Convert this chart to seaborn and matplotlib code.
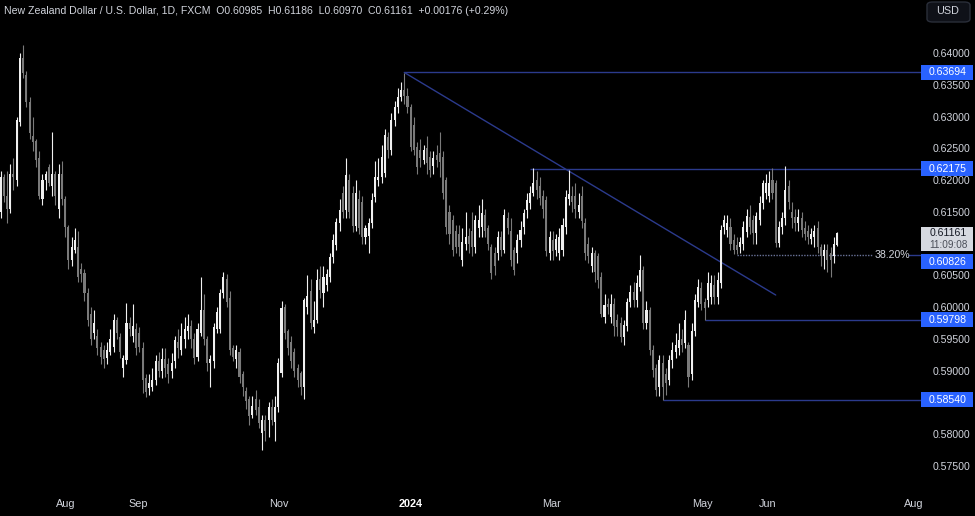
import numpy as np
import pandas as pd
import seaborn as sns
import matplotlib.pyplot as plt
from matplotlib.patches import Rectangle, FancyBboxPatch

# NZD/USD daily candles, prices in pips (x 1e-4)
opens = [6150, 6205, 6175, 6155, 6210, 6200, 6291, 6392, 6365, 6323,
         6270, 6262, 6235, 6170, 6200, 6220, 6190, 6210, 6155, 6210,
         6170, 6126, 6074, 6090, 6095, 6060, 6054, 6022, 5990, 5960,
         5955, 5937, 5933, 5920, 5930, 5937, 5980, 5953, 5905, 5917,
         5975, 5955, 5965, 5960, 5935, 5888, 5872, 5875, 5885, 5915,
         5900, 5918, 5910, 5900, 5915, 5945, 5933, 5950, 5962, 5970,
         5950, 5922, 5960, 5995, 5950, 5912, 5915, 5965, 5965, 6022,
         6045, 6015, 5935, 5918, 5930, 5895, 5868, 5855, 5830, 5855,
         5843, 5802, 5822, 5822, 5843, 5820, 5843, 5896, 6000, 5962,
         5945, 5930, 5905, 5896, 5874, 6000, 6025, 5968, 5980, 6045,
         6022, 6035, 6047, 6079, 6098, 6132, 6180, 6153, 6200, 6180,
         6128, 6170, 6165, 6110, 6112, 6132, 6173, 6200, 6205, 6211,
         6268, 6247, 6295, 6315, 6331, 6342, 6332, 6315, 6287, 6252,
         6247, 6232, 6250, 6236, 6222, 6240, 6242, 6236, 6200, 6150,
         6137, 6120, 6115, 6074, 6100, 6112, 6120, 6095, 6125, 6126,
         6145, 6125, 6095, 6085, 6085, 6110, 6090, 6140, 6120, 6090,
         6085, 6106, 6126, 6153, 6164, 6180, 6200, 6190, 6175, 6168,
         6085, 6105, 6090, 6085, 6090, 6126, 6170, 6175, 6175, 6150,
         6175, 6132, 6100, 6064, 6085, 6080, 6047, 5985, 6005, 5985,
         6005, 5980, 5975, 5953, 5970, 6008, 6024, 6011, 6032, 6059,
         5975, 5995, 5933, 5905, 5874, 5912, 5895, 5885, 5917, 5930,
         5935, 5950, 5943, 5940, 5895, 5962, 6008, 6030, 6008, 6011,
         6016, 6035, 6016, 6038, 6126, 6122, 6126, 6106, 6098, 6095,
         6100, 6118, 6142, 6137, 6117, 6137, 6164, 6180, 6175, 6200,
         6195, 6101, 6126, 6140, 6190, 6150, 6142, 6132, 6140, 6125,
         6120, 6108, 6110, 6125, 6095, 6080, 6090, 6085, 6080, 6098.5]
highs = [6215, 6210, 6215, 6225, 6235, 6300, 6400, 6412, 6372, 6330,
         6300, 6265, 6245, 6210, 6215, 6225, 6275, 6215, 6225, 6230,
         6175, 6130, 6110, 6125, 6120, 6070, 6060, 6030, 6000, 5995,
         5965, 5945, 5940, 5945, 5965, 5990, 5985, 5960, 5925, 6006,
         5985, 6005, 5975, 5968, 5945, 5895, 5895, 5905, 5925, 5930,
         5935, 5935, 5920, 5928, 5955, 5965, 5975, 5985, 5990, 5980,
         5960, 5975, 6047, 6020, 5955, 5925, 5975, 6000, 6028, 6055,
         6052, 6025, 5940, 5940, 5935, 5900, 5875, 5860, 5860, 5870,
         5855, 5830, 5830, 5850, 5855, 5860, 5920, 6010, 6005, 5965,
         5955, 5935, 5910, 5900, 6015, 6050, 6045, 6010, 6060, 6065,
         6065, 6060, 6085, 6115, 6140, 6170, 6190, 6235, 6210, 6190,
         6200, 6185, 6175, 6130, 6140, 6180, 6230, 6235, 6255, 6280,
         6275, 6305, 6325, 6345, 6355, 6369, 6345, 6320, 6300, 6260,
         6265, 6255, 6270, 6245, 6245, 6255, 6275, 6245, 6205, 6160,
         6145, 6130, 6130, 6125, 6150, 6125, 6150, 6145, 6160, 6170,
         6155, 6130, 6100, 6095, 6120, 6120, 6155, 6150, 6140, 6095,
         6115, 6135, 6155, 6180, 6190, 6219, 6215, 6205, 6185, 6175,
         6120, 6120, 6115, 6125, 6140, 6185, 6216, 6190, 6195, 6180,
         6190, 6140, 6110, 6095, 6090, 6085, 6055, 6020, 6015, 6020,
         6015, 5990, 5985, 5980, 6015, 6035, 6040, 6050, 6082, 6065,
         6010, 6000, 5940, 5910, 5925, 5925, 5905, 5925, 5945, 5960,
         5975, 5965, 5995, 5945, 5975, 6020, 6045, 6040, 6015, 6055,
         6050, 6050, 6055, 6130, 6145, 6145, 6140, 6115, 6110, 6110,
         6135, 6155, 6160, 6145, 6150, 6175, 6200, 6210, 6215, 6219,
         6200, 6135, 6150, 6222, 6200, 6165, 6155, 6155, 6150, 6135,
         6130, 6125, 6130, 6135, 6100, 6100, 6100, 6095, 6110, 6118.6]
lows = [6140, 6165, 6132, 6148, 6185, 6190, 6285, 6360, 6315, 6265,
        6245, 6220, 6170, 6160, 6185, 6190, 6175, 6160, 6140, 6160,
        6110, 6060, 6065, 6085, 6040, 6040, 6010, 5970, 5940, 5950,
        5925, 5910, 5905, 5910, 5925, 5930, 5950, 5920, 5890, 5910,
        5955, 5945, 5925, 5930, 5865, 5858, 5862, 5868, 5878, 5890,
        5888, 5890, 5880, 5888, 5905, 5920, 5925, 5935, 5950, 5935,
        5910, 5915, 5955, 5940, 5900, 5875, 5905, 5960, 5960, 6015,
        6000, 5925, 5915, 5905, 5880, 5860, 5840, 5815, 5825, 5830,
        5810, 5775, 5790, 5795, 5815, 5790, 5835, 5890, 5950, 5925,
        5905, 5890, 5875, 5862, 5855, 5990, 5965, 5960, 5975, 6015,
        6000, 6025, 6040, 6070, 6090, 6120, 6140, 6140, 6140, 6118,
        6120, 6115, 6100, 6100, 6085, 6125, 6165, 6190, 6195, 6205,
        6235, 6240, 6285, 6305, 6325, 6320, 6305, 6245, 6240, 6210,
        6220, 6225, 6210, 6205, 6210, 6220, 6205, 6170, 6115, 6100,
        6080, 6085, 6080, 6065, 6090, 6085, 6080, 6085, 6110, 6110,
        6110, 6090, 6045, 6050, 6075, 6080, 6085, 6115, 6065, 6050,
        6070, 6095, 6115, 6140, 6155, 6175, 6170, 6160, 6140, 6080,
        6075, 6075, 6080, 6075, 6080, 6115, 6160, 6150, 6140, 6140,
        6125, 6075, 6070, 6055, 6040, 6030, 5985, 5975, 5990, 5975,
        5955, 5955, 5945, 5940, 5962, 6000, 6000, 6000, 6025, 5965,
        5965, 5925, 5890, 5860, 5860, 5854, 5862, 5878, 5905, 5920,
        5925, 5930, 5935, 5875, 5885, 5955, 6000, 5995, 5980, 6000,
        6005, 6005, 6005, 6030, 6115, 6110, 6090, 6083, 6083, 6085,
        6090, 6110, 6115, 6100, 6100, 6130, 6155, 6170, 6165, 6170,
        6095, 6095, 6115, 6130, 6155, 6125, 6120, 6120, 6110, 6105,
        6100, 6100, 6095, 6085, 6065, 6060, 6055, 6048, 6070, 6097.0]
closes = [6205, 6175, 6155, 6210, 6205, 6295, 6392, 6368, 6323, 6274,
          6260, 6232, 6175, 6200, 6210, 6195, 6210, 6175, 6210, 6170,
          6126, 6075, 6095, 6105, 6048, 6052, 6022, 5980, 5950, 5975,
          5935, 5922, 5918, 5933, 5950, 5980, 5960, 5930, 5920, 5975,
          5965, 5970, 5935, 5938, 5885, 5866, 5880, 5885, 5915, 5900,
          5918, 5905, 5895, 5912, 5948, 5935, 5955, 5965, 5970, 5950,
          5920, 5965, 5995, 5950, 5912, 5918, 5968, 5992, 6022, 6047,
          6008, 5932, 5922, 5932, 5890, 5875, 5852, 5828, 5845, 5838,
          5818, 5822, 5805, 5843, 5822, 5843, 5912, 5998, 5960, 5935,
          5915, 5900, 5885, 5875, 6011, 6018, 5975, 5980, 6043, 6027,
          6047, 6052, 6079, 6106, 6134, 6153, 6150, 6208, 6150, 6128,
          6180, 6125, 6110, 6124, 6132, 6169, 6205, 6205, 6237, 6271,
          6248, 6295, 6315, 6331, 6342, 6332, 6315, 6252, 6247, 6220,
          6235, 6247, 6227, 6216, 6234, 6232, 6228, 6180, 6126, 6115,
          6090, 6095, 6095, 6103, 6110, 6100, 6095, 6137, 6137, 6148,
          6120, 6100, 6054, 6064, 6110, 6090, 6145, 6125, 6075, 6058,
          6106, 6122, 6148, 6169, 6180, 6195, 6185, 6172, 6155, 6088,
          6110, 6088, 6108, 6110, 6129, 6173, 6178, 6165, 6155, 6160,
          6135, 6085, 6080, 6085, 6055, 6043, 5990, 6004, 6000, 6005,
          5970, 5968, 5953, 5972, 6008, 6024, 6011, 6038, 6059, 5975,
          5995, 5933, 5901, 5870, 5917, 5875, 5880, 5917, 5933, 5940,
          5948, 5940, 5980, 5890, 5962, 6011, 6032, 6005, 5998, 6038,
          6038, 6016, 6043, 6122, 6137, 6132, 6100, 6090, 6090, 6102,
          6126, 6143, 6126, 6117, 6143, 6164, 6195, 6195, 6195, 6180,
          6101, 6126, 6140, 6184, 6165, 6140, 6132, 6142, 6122, 6115,
          6110, 6115, 6120, 6094, 6080, 6090, 6075, 6075, 6100, 6116.1]

month_labels = ["Aug", "Sep", "Nov", "2024", "Mar", "May", "Jun", "Aug"]
month_bars = [20.3, 42.6, 86.2, 127.1, 170.7, 217.2, 237.6, 282.8]

price_ticks = [0.575, 0.580, 0.585, 0.590, 0.595, 0.600, 0.605, 0.610,
               0.615, 0.620, 0.625, 0.630, 0.635, 0.640]
# tick labels covered by the price boxes in the reference
hidden_ticks = [0.585, 0.610]

# drawn levels (price, bar where the line starts)
levels = [0.63694, 0.62175, 0.59798, 0.58540]
level_bars = [125, 164, 218, 205]
fib_level = 0.60826
fib_bars = [228, 269.8]
fib_label = "38.20%"
trend_bars = [125, 240]
trend_prices = [0.63694, 0.60191]

last_price = 0.61161
countdown = "11:09:08"
title = ("New Zealand Dollar / U.S. Dollar, 1D, FXCM  O0.60985  H0.61186  "
         "L0.60970  C0.61161  +0.00176 (+0.29%)")

df = pd.DataFrame({"open": opens, "high": highs, "low": lows, "close": closes}) / 10000
df["bar"] = np.arange(len(df))
df["up"] = df["close"] >= df["open"]

sns.set_theme(style="dark", rc={"axes.facecolor": "black", "figure.facecolor": "black",
                                "axes.grid": False})
plt.rcParams["font.family"] = ["Liberation Sans", "DejaVu Sans"]

W, H = 975, 516
PX_PER_BAR, X0 = 3.23, 0.5
Y_TOP, Y_BOT = 0.644407, 0.571539


def fx(x):
    return x / W


def fy(y):
    return 1 - y / H


def price_px(p):
    return 25 + (Y_TOP - p) / (Y_TOP - Y_BOT) * 463


fig = plt.figure(figsize=(9.75, 5.16), dpi=100)
ax = fig.add_axes([0, fy(488), fx(922), 463 / H])
ax.set_facecolor("black")

up_col, dn_col = "#f0f0f0", "#7a7a7a"
cols = np.where(df["up"], up_col, dn_col)
body_lo = df[["open", "close"]].min(axis=1)
body_h = (df["close"] - df["open"]).abs().clip(lower=0.00006)
ax.vlines(df["bar"], df["low"], df["high"], colors=cols, linewidth=0.8, zorder=2)
ax.bar(df["bar"], body_h, bottom=body_lo, width=0.64, color=cols, linewidth=0, zorder=3)

line_col = "#2b3a8c"
x_right = (922 - X0) / PX_PER_BAR
for lv, b in zip(levels, level_bars):
    ax.hlines(lv, b, x_right, color=line_col, linewidth=1.0, zorder=1)
ax.plot(trend_bars, trend_prices, color=line_col, linewidth=1.0, zorder=1)
ax.hlines(fib_level, fib_bars[0], fib_bars[1], color="#6a7399", linewidth=1.0,
          linestyles=(0, (1, 1)), zorder=1)
ax.hlines(fib_level, (908 - X0) / PX_PER_BAR, x_right, color=line_col, linewidth=1.0, zorder=1)

ax.set_xlim(-X0 / PX_PER_BAR, x_right)
ax.set_ylim(Y_BOT, Y_TOP)
ax.set_xticks(month_bars)
ax.set_xticklabels(month_labels)
ax.set_yticks(price_ticks)
ax.set_yticklabels(["" if t in hidden_ticks else f"{t:.5f}" for t in price_ticks])
ax.yaxis.tick_right()
ax.tick_params(axis="y", colors="#d1d4dc", labelsize=7.6, length=0, pad=8)
ax.tick_params(axis="x", colors="#d1d4dc", labelsize=7.8, length=0, pad=8)
ax.get_xticklabels()[3].set_fontweight("bold")
ax.get_xticklabels()[3].set_color("white")
for s in ax.spines.values():
    s.set_visible(False)

fig.text(fx(892), fy(price_px(fib_level)), fib_label, color="#d1d4dc",
         fontsize=7.6, ha="center", va="center")


def price_box(y, text, face="#2962ff", color="white"):
    fig.patches.append(Rectangle((fx(921), fy(y + 7.5)), fx(52), 15 / H,
                                 transform=fig.transFigure, facecolor=face,
                                 edgecolor="none", zorder=5))
    fig.text(fx(948), fy(y), text, color=color, fontsize=7.6, ha="center",
             va="center", zorder=6)


for lv in levels:
    price_box(price_px(lv), f"{lv:.5f}")
price_box(price_px(fib_level) + 7, f"{fib_level:.5f}")

# current price with countdown
cy = price_px(last_price)
fig.patches.append(Rectangle((fx(921), fy(cy + 18)), fx(52), 24 / H,
                             transform=fig.transFigure, facecolor="#d6d9e0",
                             edgecolor="none", zorder=5))
fig.text(fx(948), fy(cy), f"{last_price:.5f}", color="#131722", fontsize=7.6,
         ha="center", va="center", zorder=6)
fig.text(fx(948), fy(cy + 12), countdown, color="#4a4e58", fontsize=7.2,
         ha="center", va="center", zorder=6)

# currency button
fig.patches.append(FancyBboxPatch((fx(927), fy(22)), fx(43), 20 / H,
                                  boxstyle="round,pad=0,rounding_size=0.006",
                                  transform=fig.transFigure, facecolor="#0f1118",
                                  edgecolor="#2a2e39", linewidth=1, zorder=5))
fig.text(fx(948), fy(11.5), "USD", color="#d1d4dc", fontsize=7.8, ha="center",
         va="center", zorder=6)

fig.text(fx(4), fy(11), title, color="#d1d4dc", fontsize=7.6, ha="left", va="center")

fig.savefig("out.png", dpi=100, facecolor="black")
